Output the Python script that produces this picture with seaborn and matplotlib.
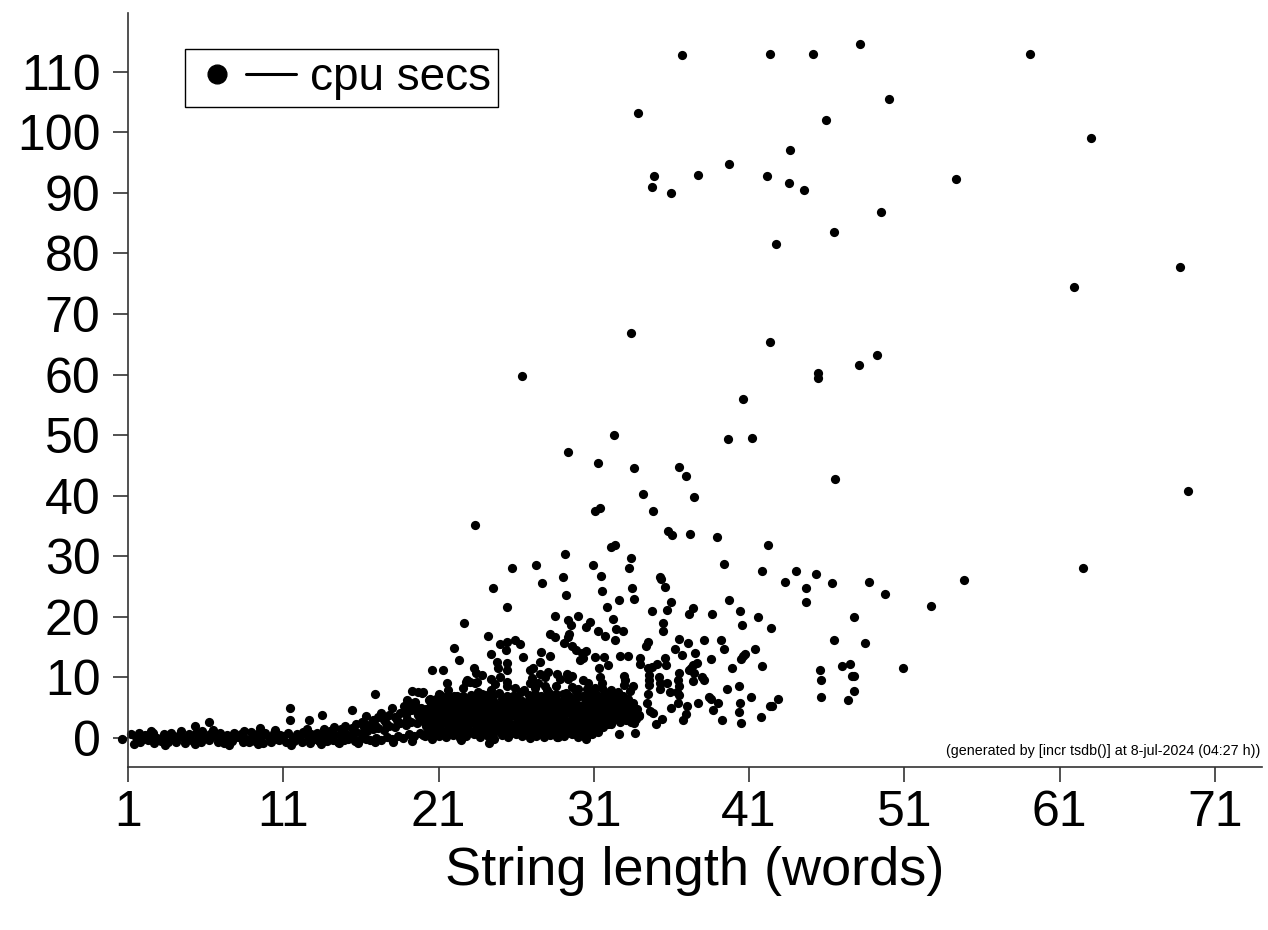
import matplotlib
matplotlib.use("Agg")
import pandas as pd
import matplotlib.pyplot as plt
import seaborn as sns
from matplotlib.lines import Line2D
from matplotlib.legend_handler import HandlerTuple

# -----------------------------
# Data: (string length in words, cpu secs)
# -----------------------------
x_ticks = [1, 11, 21, 31, 41, 51, 61, 71]
y_ticks = [0, 10, 20, 30, 40, 50, 60, 70, 80, 90, 100, 110]

# sparse points high up / to the right
outlier_pts = [
    (36.67, 112.7), (42.34, 113.0), (45.09, 113.0), (48.13, 114.6), (33.82, 103.1),
    (45.96, 102.0), (43.65, 97.0), (39.72, 94.8), (34.87, 92.7), (34.72, 90.9),
    (35.98, 89.9), (37.68, 92.9), (42.13, 92.7), (43.54, 91.7), (44.51, 90.5),
    (46.48, 83.5), (42.71, 81.5), (33.39, 66.8), (42.32, 65.4), (59.08, 113.0),
    (50.02, 105.5), (63.01, 99.1), (54.30, 92.2), (49.47, 86.9), (68.74, 77.8),
    (61.90, 74.5), (49.23, 63.3), (45.41, 60.3), (45.41, 59.5), (48.05, 61.5),
    (26.37, 59.7), (40.58, 55.9), (32.28, 50.0), (39.64, 49.3), (41.16, 49.6),
    (29.35, 47.2), (31.24, 45.4), (33.60, 44.5), (36.46, 44.8), (36.93, 43.3),
    (46.53, 42.8), (34.16, 40.2), (37.47, 39.7), (31.05, 37.4), (31.37, 38.0),
    (34.78, 37.4), (23.36, 35.1), (35.75, 34.1), (36.05, 33.5), (37.19, 33.7),
    (38.93, 33.2), (42.23, 31.9), (32.11, 31.5), (32.36, 31.9), (29.14, 30.3),
    (33.37, 29.7), (69.24, 40.7), (62.51, 28.0), (48.72, 25.8), (49.75, 23.7),
    (54.83, 26.0), (52.71, 21.8),
]

# right-hand group below 30 secs
mid_pts = [
    (41.82, 27.5), (43.30, 25.8), (44.03, 27.5), (45.30, 27.1), (44.66, 24.8),
    (44.64, 22.5), (46.33, 25.6), (41.55, 20.0), (42.42, 18.2), (47.77, 20.0),
    (41.36, 14.7), (46.48, 16.1), (48.44, 15.6), (41.80, 11.8), (45.54, 11.3),
    (45.62, 9.6), (46.98, 11.8), (47.51, 12.2), (47.60, 10.2), (47.75, 10.2),
    (47.73, 7.8), (47.34, 6.3), (45.64, 6.7), (50.88, 11.6), (41.12, 6.7),
    (42.86, 6.4), (42.49, 5.3), (41.74, 3.4),
]

# upper edge of the main cloud
cloud_pts = [
    (39.40, 28.8), (25.71, 28.0), (27.27, 28.5), (30.96, 28.5), (33.26, 28.1),
    (31.48, 26.8), (29.01, 26.6), (27.68, 25.6), (35.26, 26.6), (35.32, 26.3),
    (35.56, 25.0), (24.48, 24.8), (29.18, 23.6), (31.50, 24.2), (33.49, 24.8),
    (33.58, 23.0), (32.60, 22.8), (25.40, 21.7), (31.82, 21.7), (35.94, 22.5),
    (39.72, 22.8), (35.70, 21.2), (34.76, 20.9), (37.40, 21.5), (37.10, 20.5),
    (38.60, 20.4), (40.43, 21.0), (40.56, 18.7), (22.62, 19.0), (28.51, 20.2),
    (29.98, 20.2), (29.33, 19.4), (29.55, 18.7), (30.51, 18.3), (30.75, 19.1),
    (32.21, 19.7), (31.30, 17.7), (31.71, 16.9), (32.44, 18.0), (32.89, 17.7),
    (35.47, 19.0), (35.47, 17.7), (32.34, 16.1), (28.17, 17.2), (28.51, 16.7),
    (29.31, 16.7), (29.40, 17.1), (29.07, 15.6), (29.61, 15.2), (29.85, 14.6),
    (24.16, 16.8), (22.01, 14.9), (22.33, 12.8), (24.99, 15.5), (25.39, 15.8),
    (25.92, 16.1), (26.24, 15.5), (25.34, 14.5), (24.36, 13.9), (24.78, 12.6),
    (25.42, 12.4), (26.45, 13.3), (27.57, 14.2), (27.53, 12.6), (28.17, 13.6),
    (30.25, 14.1), (30.47, 14.4), (30.32, 13.2), (30.11, 12.8), (31.07, 13.3),
    (31.67, 13.4), (32.68, 13.6), (33.18, 13.6), (33.97, 13.2), (33.97, 12.2),
    (31.89, 12.1), (31.35, 11.6), (34.46, 11.5), (34.76, 11.7), (35.08, 12.2),
    (35.60, 13.2), (35.62, 12.1), (36.50, 16.3), (37.04, 15.7), (34.50, 15.9),
    (34.33, 15.1), (36.20, 14.7), (36.67, 13.7), (37.53, 14.1), (38.11, 16.1),
    (39.17, 16.2), (39.38, 14.7), (38.54, 13.1), (40.58, 13.6), (40.75, 13.8),
    (40.45, 13.0), (39.87, 11.5), (37.64, 12.4), (37.40, 12.1), (37.23, 11.6),
    (37.10, 11.3), (37.46, 10.7), (36.46, 10.8), (37.98, 10.1), (38.09, 9.6),
    (37.40, 9.4), (34.53, 10.4), (34.55, 9.6), (35.17, 10.1), (36.39, 9.6),
    (36.48, 8.6), (36.35, 7.6), (35.88, 7.6), (35.69, 9.0), (35.26, 9.1),
    (35.28, 8.1), (36.50, 7.1), (37.01, 5.3), (36.44, 5.7), (34.53, 8.8),
    (34.50, 7.3), (34.40, 5.8), (34.61, 4.5), (34.78, 4.1), (35.02, 2.3),
    (35.40, 3.2), (35.95, 4.9), (36.74, 3.0), (36.91, 4.0), (37.70, 5.8),
    (38.39, 6.7), (38.52, 6.4), (38.97, 5.7), (38.65, 4.6), (39.27, 2.9),
    (39.57, 8.1), (40.36, 8.6), (40.41, 5.8), (40.36, 4.3), (40.47, 2.5),
    (42.34, 5.3),
]

# inner part of the main cloud
core_pts = [
    (20.56, 11.3), (21.26, 11.3), (19.98, 7.6), (21.56, 9.1), (23.28, 11.6),
    (23.39, 10.8), (23.79, 10.4), (22.74, 9.3), (23.02, 9.2), (23.34, 9.0),
    (24.37, 9.7), (24.61, 8.9), (24.97, 10.1), (25.38, 9.3), (25.42, 8.5),
    (24.81, 11.5), (25.42, 11.2), (21.62, 7.9), (21.61, 6.9), (22.59, 8.2),
    (22.21, 6.9), (21.09, 7.1), (20.83, 6.4), (23.56, 7.6), (23.82, 7.2),
    (24.20, 6.3), (26.89, 11.2), (27.06, 11.6), (26.89, 9.0), (27.00, 9.9),
    (27.53, 10.5), (27.87, 10.1), (28.04, 10.9), (27.40, 9.0), (27.83, 8.6),
    (28.64, 10.5), (28.82, 9.7), (29.25, 10.5), (29.35, 9.7), (29.57, 10.2),
    (28.56, 8.6), (28.56, 7.3), (29.20, 7.5), (29.85, 7.8), (30.32, 9.6),
    (30.64, 9.0), (30.54, 8.1), (30.96, 7.9), (31.39, 10.1), (31.50, 9.0),
    (31.50, 8.2), (31.71, 7.6), (32.94, 10.2), (33.02, 9.6), (32.94, 8.8),
    (33.32, 7.8), (32.57, 7.6), (32.81, 6.9), (32.31, 7.1), (30.54, 6.8),
    (30.86, 5.4), (31.16, 4.9), (31.82, 6.8), (32.15, 5.7), (32.29, 4.6),
    (32.76, 4.1), (33.28, 3.5), (33.58, 4.0), (33.41, 2.7), (33.89, 3.8),
    (32.60, 0.6), (33.65, 0.9), (30.47, -0.1), (31.26, 1.0), (31.59, 1.8),
    (31.91, 2.3), (32.10, 2.3), (27.47, 0.8), (27.68, 1.3), (28.45, 0.7),
    (28.64, 0.2), (29.63, 0.8), (24.25, -0.8), (22.42, -0.3),
]

# short strings, a few slower ones
short_pts = [
    (0.63, -0.2), (6.22, 2.7), (5.3, 1.9), (9.5, 1.6), (11.43, 5.0), (11.43, 2.9),
    (12.67, 2.9), (13.47, 3.8), (16.92, 7.2), (15.40, 4.6), (16.31, 3.6),
    (19.27, 7.8), (19.91, 7.5), (18.95, 6.3), (19.16, 5.7), (20.40, 6.3),
    (21.05, 7.3), (19.70, 7.6), (19.48, 6.0), (20.45, 6.4), (22.81, 9.6),
    (23.45, 9.3),
]

# dense band of fast parses, lengths 1-20
band_pts = [
    (1.2, 0.7), (1.7, 0.9), (2.1, 0.5), (2.6, 0.8), (3.3, 0.6), (3.8, 0.9), (4.2, 0.4),
    (4.9, 0.7), (5.4, 0.8), (5.8, 1.1), (6.3, 0.6), (6.9, 0.9), (7.4, 0.5), (7.8, 0.8),
    (8.3, 0.7), (8.9, 1.0), (9.3, 0.6), (9.8, 0.8), (10.4, 0.9), (10.8, 0.5), (11.3, 0.8),
    (11.9, 0.7), (12.3, 1.0), (12.8, 0.6), (13.2, 0.9), (13.7, 1.2),
    (1.5, 0.1), (2.0, -0.2), (2.4, 0.2), (2.9, 0.0), (3.5, -0.1), (3.9, 0.3), (4.5, 0.1),
    (5.0, -0.2), (5.6, 0.2), (6.0, 0.0), (6.6, 0.3), (7.1, -0.1), (7.6, 0.1), (8.1, 0.2),
    (8.6, -0.1), (9.0, 0.0), (9.6, 0.2), (10.1, 0.1), (10.6, -0.2), (11.0, 0.3), (11.6, 0.0),
    (12.0, 0.1), (12.6, 0.2), (13.1, -0.1), (13.5, 0.1),
    (1.8, -0.6), (2.3, -0.4), (2.7, -0.8), (3.1, -0.5), (3.6, -0.7), (4.1, -0.6), (4.7, -0.8),
    (5.2, -0.5), (5.7, -0.7), (6.2, -0.4), (6.8, -0.6), (7.2, -0.8), (7.7, -0.5), (8.4, -0.7),
    (8.8, -0.6), (9.2, -0.5), (9.7, -0.8), (10.2, -0.6), (10.7, -0.4), (11.2, -0.7),
    (11.7, -0.5), (12.2, -0.6), (12.7, -0.8), (13.3, -0.5),
    (1.4, -1.0), (2.5, 1.2), (3.4, -1.1), (4.4, 1.1), (5.3, -1.0), (6.5, 1.3), (7.5, -1.1),
    (8.5, 1.2), (9.4, -1.0), (10.5, 1.3), (11.5, -1.1), (12.5, 1.4), (13.4, -1.0),
    (14.6, -0.9), (15.8, -0.8), (16.9, -0.7), (18.1, -0.6), (19.3, -0.5),
    (13.6, 1.4), (14.0, 1.1), (14.3, 1.8), (14.7, 1.5), (15.0, 2.0), (15.4, 1.7), (15.7, 2.3),
    (16.1, 2.6), (16.4, 2.1), (16.8, 2.9), (17.1, 3.4), (17.5, 3.0), (17.8, 3.8), (18.2, 3.5),
    (18.5, 4.2), (18.9, 3.9), (19.2, 4.6), (19.6, 4.3), (19.9, 5.0),
    (13.6, 0.5), (14.0, 0.3), (14.3, 0.6), (14.7, 0.4), (15.0, 0.8), (15.4, 0.5), (15.7, 1.0),
    (16.1, 0.9), (16.4, 1.2), (16.8, 1.4), (17.1, 1.6), (17.5, 1.3), (17.8, 2.0), (18.2, 1.8),
    (18.5, 2.4), (18.9, 2.1), (19.2, 2.7), (19.6, 2.5), (19.9, 3.0),
    (14.1, 0.9), (14.8, 1.2), (15.5, 1.4), (16.2, 1.8), (16.9, 2.2), (17.6, 2.5), (18.3, 2.9),
    (19.0, 3.2), (19.7, 3.8), (17.3, 4.2), (18.0, 4.9), (18.8, 5.2), (19.5, 5.5),
    (13.8, -0.5), (14.2, -0.3), (14.5, -0.6), (14.9, -0.4), (15.2, -0.2), (15.6, -0.5),
    (15.9, -0.3), (16.3, -0.1), (16.6, -0.4), (17.0, 0.0), (17.3, -0.3), (17.7, 0.2),
    (18.0, -0.2), (18.4, 0.4), (18.7, 0.0), (19.1, 0.6), (19.4, 0.3), (19.8, 0.8), (20.0, 0.5),
]

# solid block of lengths 20-34, 0-8 secs
block_pts = [
    (20.1, 0.3), (20.6, -0.1), (21.0, 0.4), (21.5, 0.1), (21.9, 0.5), (22.4, 0.0), (22.8, 0.3),
    (23.3, 0.6), (23.7, 0.2), (24.2, 0.4), (24.6, -0.2), (25.1, 0.5), (25.5, 0.1), (26.0, 0.6),
    (26.4, 0.3), (26.9, 0.0), (27.3, 0.4), (27.8, 0.2), (28.2, 0.5), (28.7, 0.1), (29.1, 0.3),
    (29.6, 0.6), (30.0, 0.2), (30.5, 0.4), (30.9, 0.7),
    (20.4, 0.9), (20.9, 0.7), (21.4, 1.0), (21.8, 0.8), (22.3, 0.9), (22.7, 0.6), (23.2, 1.0),
    (23.6, 0.8), (24.1, 0.9), (24.5, 0.7), (25.0, 1.0), (25.4, 0.8), (25.9, 0.9), (26.3, 0.7),
    (26.8, 1.0), (27.2, 0.8), (27.7, 0.9), (28.1, 0.7), (28.6, 1.0), (29.0, 0.8), (29.5, 0.9),
    (29.9, 0.7), (30.4, 1.0), (30.8, 0.9),
    (20.3, 1.2), (20.8, 1.5), (21.2, 1.1), (21.7, 1.6), (22.1, 1.3), (22.6, 1.7), (23.0, 1.2),
    (23.5, 1.5), (23.9, 1.4), (24.4, 1.1), (24.8, 1.6), (25.3, 1.3), (25.7, 1.8), (26.2, 1.2),
    (26.6, 1.5), (27.1, 1.4), (27.5, 1.7), (28.0, 1.1), (28.4, 1.6), (28.9, 1.3), (29.3, 1.5),
    (29.8, 1.2), (30.2, 1.8), (30.7, 1.4), (31.1, 1.6),
    (20.2, 2.0), (20.7, 1.9), (21.1, 2.2), (21.6, 2.0), (22.0, 1.8), (22.5, 2.1), (22.9, 1.9),
    (23.4, 2.2), (23.8, 2.0), (24.3, 1.8), (24.7, 2.1), (25.2, 2.0), (25.6, 2.2), (26.1, 1.9),
    (26.5, 2.1), (27.0, 2.0), (27.4, 1.8), (27.9, 2.2), (28.3, 2.0), (28.8, 1.9), (29.2, 2.1),
    (29.7, 2.0), (30.1, 2.2), (30.6, 1.9), (31.0, 2.1), (31.5, 2.0),
    (20.1, 2.4), (20.5, 2.8), (21.0, 2.5), (21.4, 2.9), (21.9, 2.3), (22.3, 2.7), (22.8, 2.6),
    (23.2, 3.0), (23.7, 2.4), (24.1, 2.8), (24.6, 2.5), (25.0, 2.9), (25.5, 2.7), (25.9, 2.3),
    (26.4, 2.8), (26.8, 2.6), (27.3, 3.0), (27.7, 2.5), (28.2, 2.7), (28.6, 2.4), (29.1, 2.9),
    (29.5, 2.6), (30.0, 2.8), (30.4, 2.5), (30.9, 3.0), (31.3, 2.7), (31.8, 2.4), (32.2, 2.8),
    (32.7, 2.6), (33.1, 2.9), (33.6, 2.5),
    (20.1, 3.1), (20.6, 3.3), (21.0, 3.2), (21.5, 3.0), (21.9, 3.3), (22.4, 3.1), (22.8, 3.2),
    (23.3, 3.4), (23.7, 3.0), (24.2, 3.2), (24.6, 3.3), (25.1, 3.1), (25.5, 3.2), (26.0, 3.4),
    (26.4, 3.0), (26.9, 3.2), (27.3, 3.3), (27.8, 3.1), (28.2, 3.2), (28.7, 3.4), (29.1, 3.0),
    (29.6, 3.2), (30.0, 3.3), (30.5, 3.1), (30.9, 3.2), (31.4, 3.4), (31.8, 3.0), (32.3, 3.2),
    (32.7, 3.3), (33.2, 3.1), (33.7, 3.2),
    (20.3, 3.6), (20.8, 4.0), (21.2, 3.7), (21.7, 4.1), (22.1, 3.5), (22.6, 3.9), (23.0, 3.8),
    (23.5, 4.2), (23.9, 3.6), (24.4, 4.0), (24.8, 3.7), (25.3, 4.1), (25.7, 3.9), (26.2, 3.5),
    (26.6, 4.0), (27.1, 3.8), (27.5, 4.2), (28.0, 3.6), (28.4, 3.9), (28.9, 3.7), (29.3, 4.1),
    (29.8, 3.8), (30.2, 4.0), (30.7, 3.6), (31.1, 4.2), (31.6, 3.9), (32.0, 3.7), (32.5, 4.0),
    (32.9, 3.8), (33.4, 4.1), (33.9, 3.6),
    (20.0, 4.3), (20.5, 4.5), (20.9, 4.4), (21.4, 4.2), (21.8, 4.5), (22.3, 4.3), (22.7, 4.4),
    (23.2, 4.6), (23.6, 4.2), (24.1, 4.4), (24.5, 4.5), (25.0, 4.3), (25.4, 4.4), (25.9, 4.6),
    (26.3, 4.2), (26.8, 4.4), (27.2, 4.5), (27.7, 4.3), (28.1, 4.4), (28.6, 4.6), (29.0, 4.2),
    (29.5, 4.4), (29.9, 4.5), (30.4, 4.3), (30.8, 4.4), (31.3, 4.6), (31.7, 4.2), (32.2, 4.4),
    (32.6, 4.5), (33.1, 4.3), (33.6, 4.4),
    (20.2, 4.8), (20.7, 5.2), (21.1, 4.9), (21.6, 5.3), (22.0, 4.7), (22.5, 5.1), (22.9, 5.0),
    (23.4, 5.4), (23.8, 4.8), (24.3, 5.2), (24.7, 4.9), (25.2, 5.3), (25.6, 5.1), (26.1, 4.7),
    (26.5, 5.2), (27.0, 5.0), (27.4, 5.4), (27.9, 4.8), (28.3, 5.1), (28.8, 4.9), (29.2, 5.3),
    (29.7, 5.0), (30.1, 5.2), (30.6, 4.8), (31.0, 5.4), (31.5, 5.1), (31.9, 4.9), (32.4, 5.2),
    (32.8, 5.0), (33.3, 5.3), (33.8, 4.8),
    (20.5, 5.6), (21.3, 5.7), (21.7, 5.5), (22.2, 5.8), (22.6, 5.6), (23.1, 5.5), (23.5, 5.8),
    (24.0, 5.6), (24.4, 5.7), (24.9, 5.5), (25.3, 5.8), (25.8, 5.6), (26.2, 5.7), (26.7, 5.5),
    (27.1, 5.8), (27.6, 5.6), (28.0, 5.7), (28.5, 5.5), (28.9, 5.8), (29.4, 5.6), (29.8, 5.7),
    (30.3, 5.5), (30.7, 5.8), (31.2, 5.6), (31.6, 5.7), (32.1, 5.5), (32.5, 5.8), (33.0, 5.6),
    (33.5, 5.7),
    (21.0, 5.9), (21.5, 6.3), (21.9, 6.0), (22.4, 6.4), (22.8, 6.1), (23.3, 6.5), (23.7, 6.2),
    (24.2, 6.6), (24.6, 6.0), (25.1, 6.4), (25.5, 6.3), (26.0, 6.7), (26.4, 6.1), (26.9, 6.5),
    (27.3, 6.2), (27.8, 6.6), (28.2, 6.4), (28.7, 6.0), (29.1, 6.5), (29.6, 6.3), (30.0, 6.7),
    (30.5, 6.1), (30.9, 6.4), (31.4, 6.2), (31.8, 6.6), (32.3, 6.0), (32.7, 6.3), (33.2, 6.5),
    (21.3, 6.8), (22.0, 7.0), (22.6, 6.9), (23.1, 7.1), (23.6, 6.8), (24.5, 6.9), (25.4, 7.0),
    (26.0, 6.8), (26.8, 7.1), (27.6, 6.9), (28.5, 6.8), (29.4, 7.0), (30.3, 6.9), (31.2, 7.1),
    (32.0, 6.8), (32.9, 7.0),
    (24.0, 7.1), (24.9, 7.4), (25.8, 7.0), (26.3, 7.6), (27.2, 7.2), (28.1, 7.5), (29.0, 7.3),
    (29.9, 7.0), (30.8, 7.4), (31.7, 7.2), (32.5, 7.5),
    (24.4, 8.0), (25.9, 8.3), (26.5, 7.9), (27.2, 8.2), (28.0, 8.0), (29.6, 8.4), (30.0, 8.1),
    (31.1, 8.3), (32.1, 8.0), (33.5, 8.5),
]

all_pts = outlier_pts + mid_pts + cloud_pts + core_pts + short_pts + band_pts + block_pts
df = pd.DataFrame(all_pts, columns=["words", "cpu"])

# -----------------------------
# Plot
# -----------------------------
sns.set_style("ticks")
plt.rcParams["font.family"] = ["Liberation Sans", "DejaVu Sans"]
plt.rcParams["text.color"] = "black"

fig = plt.figure(figsize=(12.68, 9.30), dpi=100)
ax = fig.add_axes([0.1009, 0.1753, 0.8943, 0.8108])

sns.scatterplot(data=df, x="words", y="cpu", color="black", s=44, linewidth=0,
                legend=False, clip_on=False, ax=ax)

ax.set_xlim(1, 74.02)
ax.set_ylim(-4.79, 119.7)
ax.set_xticks(x_ticks)
ax.set_yticks(y_ticks)
ax.tick_params(axis="both", direction="out", length=10.8, width=1.2, color="#333333",
               labelsize=36, labelcolor="black")
ax.tick_params(axis="y", pad=9)
ax.tick_params(axis="x", pad=6)

for side in ["top", "right"]:
    ax.spines[side].set_visible(False)
for side in ["left", "bottom"]:
    ax.spines[side].set_linewidth(1.2)
    ax.spines[side].set_color("#333333")

ax.set_xlabel("String length (words)", fontsize=39, labelpad=7, color="black")
ax.set_ylabel("")

# legend: dot, then a short line, then the label
dot = Line2D([], [], marker="o", color="black", linestyle="none", markersize=13.5)
seg = Line2D([], [], color="black", linewidth=2.2)
leg = ax.legend([(dot, seg)], ["cpu secs"], handler_map={tuple: HandlerTuple(ndivide=2, pad=0.1)},
                loc="upper left", bbox_to_anchor=(0.0503, 0.952), borderaxespad=0,
                borderpad=0.15, handlelength=2.28, handletextpad=0.3, fontsize=33,
                frameon=True, fancybox=False, edgecolor="black", framealpha=1,
                labelcolor="black")
leg.get_frame().set_linewidth(1.0)

ax.text(0.999, 0.0212, "(generated by [incr tsdb()] at 8-jul-2024 (04:27 h))",
        transform=ax.transAxes, ha="right", va="center", fontsize=10.3, color="black")

fig.savefig("out.png", dpi=100)
